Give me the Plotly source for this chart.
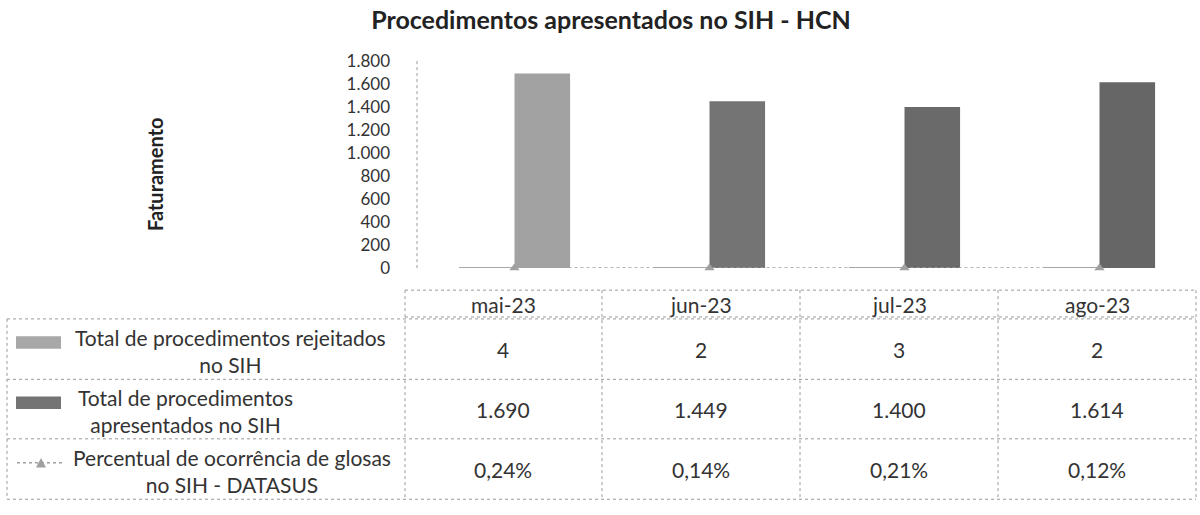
import plotly.graph_objects as go

# Monthly figures for SIH (hospital information system) submissions
meses = ["mai-23", "jun-23", "jul-23", "ago-23"]
rejeitados = [4, 2, 3, 2]
apresentados = [1690, 1449, 1400, 1614]
percentual_glosas = [0.24, 0.14, 0.21, 0.12]  # in percent

serie_rejeitados = "Total de procedimentos rejeitados<br>no SIH"
serie_apresentados = "Total de procedimentos<br>apresentados no SIH"
serie_percentual = "Percentual de ocorrência de glosas<br>no SIH - DATASUS"

y_ticks = list(range(0, 1801, 200))

W, H = 1200, 515
FONT = "Lato"
TXT = "#2b2b2b"
GRID = "#9a9a9a"

cor_rejeitados = "#a8a8a8"
cores_apresentados = ["#a2a2a2", "#747474", "#6a6a6a", "#666666"]
cor_percentual = "#a0a0a0"


def px(x):
    return x / W


def py(y):
    return 1 - y / H


def fmt_milhar(v):
    return f"{v:,}".replace(",", ".")


def fmt_pct(v):
    return f"{v:.2f}%".replace(".", ",")


fig = go.Figure()

fig.add_trace(go.Bar(
    x=meses, y=rejeitados, name=serie_rejeitados,
    marker=dict(color=cor_rejeitados, line=dict(width=0)),
))
fig.add_trace(go.Bar(
    x=meses, y=apresentados, name=serie_apresentados,
    marker=dict(color=cores_apresentados, line=dict(width=0)),
))
fig.add_trace(go.Scatter(
    x=meses, y=[p / 100 for p in percentual_glosas], name=serie_percentual,
    mode="lines+markers", cliponaxis=False,
    line=dict(color=cor_percentual, width=1.5, dash="dot"),
    marker=dict(symbol="triangle-up", size=9, color=cor_percentual),
))

fig.update_layout(
    width=W, height=H,
    margin=dict(l=0, r=0, t=0, b=0),
    paper_bgcolor="white", plot_bgcolor="white",
    barmode="group", bargap=0.43, bargroupgap=0,
    showlegend=False,
    separators=",.",
    font=dict(family=FONT, color=TXT),
    title=dict(
        text="<b>Procedimentos apresentados no SIH - HCN</b>",
        x=px(611), xanchor="center", y=py(20), yanchor="middle",
        font=dict(family=FONT, size=25, color="#222222"),
    ),
    xaxis=dict(
        domain=[px(417), px(1197)],
        showticklabels=False, showline=False, showgrid=False,
        zeroline=False, ticks="",
    ),
    yaxis=dict(
        domain=[py(268), py(52)],
        range=[0, 1800], tickvals=y_ticks, tickformat=",d",
        showgrid=False, zeroline=False, showline=False, ticks="",
        tickfont=dict(family=FONT, size=17, color="#333333"),
        ticklabelstandoff=26,
    ),
)

shapes = []
annotations = []

# dotted value axis
shapes.append(dict(
    type="line", xref="x domain", yref="y domain",
    x0=0, x1=0, y0=0, y1=1,
    line=dict(color=GRID, width=1, dash="dot"),
))

annotations.append(dict(
    text="<b>Faturamento</b>", textangle=-90,
    xref="paper", yref="paper", x=px(155), y=py(170),
    xanchor="center", yanchor="middle", showarrow=False,
    font=dict(family=FONT, size=20, color="#222222"),
))

# data table under the chart
col_x = [405, 602, 800, 998, 1196]
lab_x0 = 7
head_y = [291, 319]
row_y = [321, 384, 446, 509]


def hline(x0, x1, y):
    shapes.append(dict(
        type="line", xref="paper", yref="paper",
        x0=px(x0), x1=px(x1), y0=py(y), y1=py(y),
        line=dict(color=GRID, width=1, dash="dot"),
    ))


def vline(x, y0, y1):
    shapes.append(dict(
        type="line", xref="paper", yref="paper",
        x0=px(x), x1=px(x), y0=py(y0), y1=py(y1),
        line=dict(color=GRID, width=1, dash="dot"),
    ))


hline(col_x[0], col_x[-1], head_y[0])
hline(col_x[0], col_x[-1], head_y[1])
for y in row_y:
    hline(lab_x0, col_x[-1], y)
for x in col_x:
    vline(x, head_y[0], row_y[-1])
vline(lab_x0, row_y[0], row_y[-1])


def cell_text(txt, x, y, size=21, xanchor="center"):
    annotations.append(dict(
        text=txt, xref="paper", yref="paper", x=px(x), y=py(y),
        xanchor=xanchor, yanchor="middle", showarrow=False, align="center",
        font=dict(family=FONT, size=size, color="#333333"),
    ))


for i, m in enumerate(meses):
    cx = (col_x[i] + col_x[i + 1]) / 2
    cell_text(m, cx, (head_y[0] + head_y[1]) / 2 + 1)
    cell_text(str(rejeitados[i]), cx, (row_y[0] + row_y[1]) / 2)
    cell_text(fmt_milhar(apresentados[i]), cx, (row_y[1] + row_y[2]) / 2)
    cell_text(fmt_pct(percentual_glosas[i]), cx, (row_y[2] + row_y[3]) / 2)

# row labels with their legend keys
label_cx = [230, 185, 232]
for r, (txt, cx) in enumerate(zip([serie_rejeitados, serie_apresentados, serie_percentual], label_cx)):
    mid = (row_y[r] + row_y[r + 1]) / 2 + 2
    cell_text(txt, cx, mid, size=21)

key_y = [345, 408, 471]
for r, color in enumerate([cor_rejeitados, "#747474"]):
    shapes.append(dict(
        type="rect", xref="paper", yref="paper",
        x0=px(16), x1=px(61), y0=py(key_y[r] - 6), y1=py(key_y[r] + 7),
        fillcolor=color, line=dict(width=0),
    ))
shapes.append(dict(
    type="line", xref="paper", yref="paper",
    x0=px(17), x1=px(63), y0=py(key_y[2]), y1=py(key_y[2]),
    line=dict(color=cor_percentual, width=1.5, dash="dot"),
))
shapes.append(dict(
    type="path", xref="paper", yref="paper",
    path=f"M {px(36)},{py(key_y[2] + 5)} L {px(46)},{py(key_y[2] + 5)} L {px(41)},{py(key_y[2] - 5)} Z",
    fillcolor=cor_percentual, line=dict(width=0),
))

fig.update_layout(shapes=shapes, annotations=annotations)

fig.write_html("out.html")
